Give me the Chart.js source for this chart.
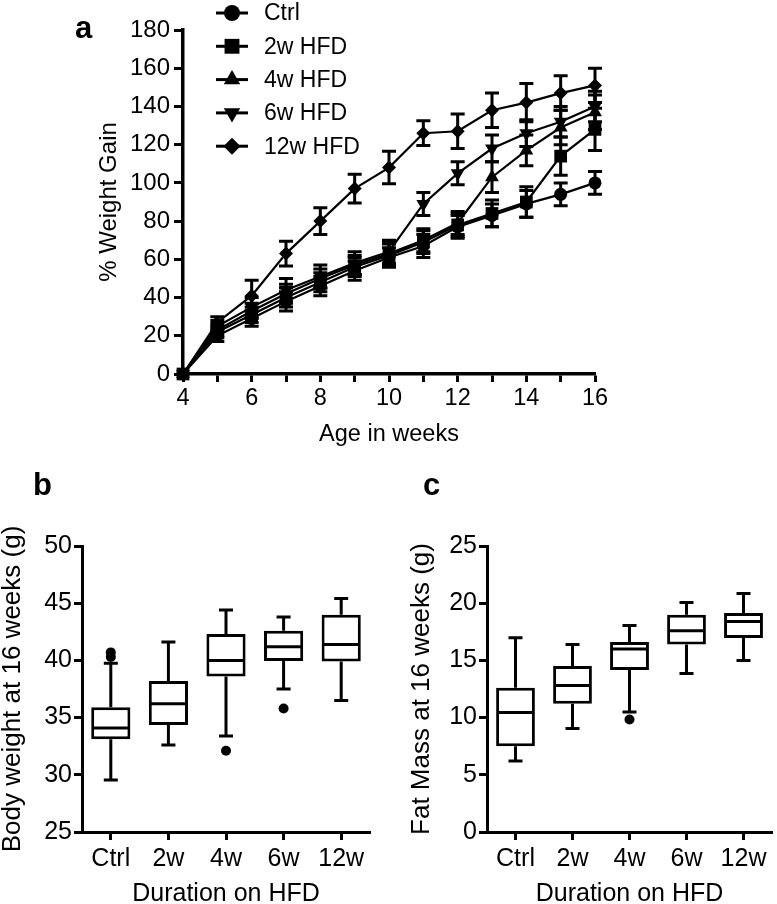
<!DOCTYPE html>
<html>
<head>
<meta charset="utf-8">
<script src="https://cdn.jsdelivr.net/npm/chart.js@4.4.1/dist/chart.umd.min.js"></script>
<style>
html,body{margin:0;padding:0;background:#fff;}
body{width:777px;height:904px;position:relative;overflow:hidden;}
.wrap{position:absolute;}
#wa{left:0;top:0;width:777px;height:470px;}
#wb{left:0;top:470px;width:390px;height:440px;}
#wc{left:390px;top:470px;width:387px;height:440px;}
.lab{position:absolute;font:bold 31px "Liberation Sans",Arial,sans-serif;line-height:31px;color:#000;}
</style>
</head>
<body>
<div id="wa" class="wrap"><canvas id="ca" width="777" height="470"></canvas></div>
<div id="wb" class="wrap"><canvas id="cb" width="390" height="440"></canvas></div>
<div id="wc" class="wrap"><canvas id="cc" width="387" height="440"></canvas></div>
<div class="lab" style="left:75px;top:12px;">a</div>
<div class="lab" style="left:33px;top:469px;">b</div>
<div class="lab" style="left:423px;top:469px;">c</div>
<script>
// ---------- Panel a data ----------
const weeks = [4,5,6,7,8,9,10,11,12,13,14,15,16];
const ctrlGain  = [0,20,29,38,46,54,61,67,77,83,89,94,100];
const hfd2Gain  = [0,22,31,40,48,56,62,69,78,84,90,114,128];
const hfd4Gain  = [0,23,33,42,50,57,63,70,79,103,117,129,137];
const hfd6Gain  = [0,25,35,44,51,58,64,89,105,118,126,132,140];
const hfd12Gain = [0,27,41,63,80,97,108,126,127,138,142,147,151];
const ctrlErr  = [0,3,4,5,5,5,5,6,6,6,7,6,6];
const hfd2Err  = [0,3,4,5,5,5,6,6,6,7,8,10,11];
const hfd4Err  = [0,3,4,5,5,5,6,6,6,8,8,9,9];
const hfd6Err  = [0,3,5,6,6,6,6,6,6,7,7,8,8];
const hfd12Err = [0,3,8,6.5,7,7.5,8.5,6.5,9,9,10,9,9];
const gainLabels = ['Ctrl','2w HFD','4w HFD','6w HFD','12w HFD'];
const xTicksA = [4,6,8,10,12,14,16];

// ---------- Panel b / c data ----------
const groups = ['Ctrl','2w','4w','6w','12w'];
const bwMin = [29.55,32.6,33.4,37.5,36.5];
const bwQ1  = [33.1,34.35,38.6,39.95,39.9];
const bwMed = [34.1,36.2,40.0,41.2,41.4];
const bwQ3  = [35.9,38.2,42.3,42.6,44.0];
const bwMax = [39.75,41.6,44.4,43.8,45.4];
const bwOutGroup = ['Ctrl','Ctrl','4w','6w'];
const bwOutVal   = [40.7,40.3,32.1,35.8];

const fmMin = [6.2,9.05,10.5,13.85,15.0];
const fmQ1  = [7.5,11.2,14.15,16.4,16.95];
const fmMed = [10.45,12.8,16.0,17.6,18.4];
const fmQ3  = [12.6,14.5,16.6,19.0,19.15];
const fmMax = [16.97,16.4,18.05,20.07,20.85];
const fmOutGroup = ['4w'];
const fmOutVal   = [9.83];

const FONT = '"Liberation Sans", Arial, sans-serif';
Chart.defaults.font.family = FONT;
Chart.defaults.color = '#000';

// ---------- Panel a ----------
const styles = [
  {ps:'circle', r:6.5, rot:0, lr:8},
  {ps:'rect', r:9, rot:0, lr:10.5},
  {ps:'triangle', r:8, rot:0, lr:9.5},
  {ps:'triangle', r:8, rot:180, lr:9.5},
  {ps:'rectRot', r:7, rot:0, lr:8.5}
];
const gainSeries = [ctrlGain,hfd2Gain,hfd4Gain,hfd6Gain,hfd12Gain];
const errSeries = [ctrlErr,hfd2Err,hfd4Err,hfd6Err,hfd12Err];

const datasetsA = gainSeries.map((vals,k)=>({
  label: gainLabels[k],
  data: weeks.map((w,i)=>({x:w,y:vals[i]})),
  err: errSeries[k],
  borderColor:'#000', borderWidth:2.2, tension:0,
  pointStyle: styles[k].ps, pointRadius: styles[k].r, pointRotation: styles[k].rot,
  pointBackgroundColor:'#000', pointBorderColor:'#000', pointBorderWidth:0,
  clip:false
}));

const errorBars = {
  id:'errorBars',
  afterDatasetsDraw(chart){
    const {ctx} = chart; const x = chart.scales.x, y = chart.scales.y;
    ctx.save(); ctx.strokeStyle='#000'; ctx.lineWidth=3; ctx.lineCap='butt';
    chart.data.datasets.forEach(ds=>{
      ds.err.forEach((e,j)=>{
        if(!e) return;
        const px = x.getPixelForValue(ds.data[j].x);
        const v = ds.data[j].y;
        const yt = y.getPixelForValue(v+e), yb = y.getPixelForValue(v-e);
        const cw = 7;
        ctx.beginPath();
        ctx.moveTo(px,yt); ctx.lineTo(px,yb);
        ctx.moveTo(px-cw,yt); ctx.lineTo(px+cw,yt);
        ctx.moveTo(px-cw,yb); ctx.lineTo(px+cw,yb);
        ctx.stroke();
      });
    });
    ctx.restore();
  }
};

const customLegend = {
  id:'customLegend',
  afterDraw(chart){
    const {ctx} = chart;
    ctx.save();
    chart.data.datasets.forEach((ds,k)=>{
      const yy = 13 + k*33.3;
      ctx.strokeStyle='#000'; ctx.lineWidth=3;
      ctx.beginPath(); ctx.moveTo(216,yy); ctx.lineTo(248,yy); ctx.stroke();
      ctx.fillStyle='#000';
      Chart.helpers.drawPoint(ctx,{pointStyle:styles[k].ps, rotation:styles[k].rot, radius:styles[k].lr, borderWidth:0},232,yy);
      ctx.font = '23px ' + FONT;
      ctx.textAlign='left'; ctx.textBaseline='middle';
      ctx.fillText(ds.label,264,yy+1);
    });
    ctx.restore();
  }
};

new Chart(document.getElementById('ca'),{
  type:'line',
  data:{datasets:datasetsA},
  plugins:[errorBars,customLegend],
  options:{
    responsive:false, animation:false, events:[],
    layout:{padding:{left:0,top:30,right:182,bottom:0}},
    plugins:{legend:{display:false},tooltip:{enabled:false}},
    scales:{
      x:{type:'linear', min:4, max:16,
        ticks:{stepSize:1, autoSkip:false, maxRotation:0, padding:2, color:'#000', font:{size:23.5},
          callback:(v)=> xTicksA.includes(v) ? String(v) : ''},
        grid:{drawOnChartArea:false, drawTicks:true, tickLength:8, tickWidth:3, tickColor:'#000'},
        border:{display:true, color:'#000', width:3.5},
        title:{display:true, text:'Age in weeks', color:'#000', font:{size:23.5, lineHeight:1}, padding:{top:0,bottom:24}},
        afterFit:(s)=>{s.height=96;}
      },
      y:{min:0, max:180,
        ticks:{stepSize:20, padding:4, color:'#000', font:{size:24}},
        grid:{drawOnChartArea:false, drawTicks:true, tickLength:9, tickWidth:3, tickColor:'#000'},
        border:{display:true, color:'#000', width:3.5},
        title:{display:true, text:'% Weight Gain', color:'#000', font:{size:24, lineHeight:1}, padding:{top:97,bottom:0}},
        afterFit:(s)=>{s.width=183;}
      }
    }
  }
});

// ---------- Box plots ----------
const boxWhiskers = {
  id:'boxWhiskers',
  afterDatasetsDraw(chart){
    const {ctx} = chart; const y = chart.scales.y;
    const ds = chart.data.datasets[0];
    const meta = chart.getDatasetMeta(0);
    ctx.save(); ctx.strokeStyle='#000'; ctx.lineWidth=3;
    meta.data.forEach((bar,i)=>{
      const cx = bar.x, half = bar.width/2, cw = 7;
      const pMin = y.getPixelForValue(ds.whiskerMin[i]);
      const pMax = y.getPixelForValue(ds.whiskerMax[i]);
      const pQ1 = y.getPixelForValue(ds.data[i][0]);
      const pQ3 = y.getPixelForValue(ds.data[i][1]);
      const pMed = y.getPixelForValue(ds.medians[i]);
      ctx.beginPath();
      ctx.moveTo(cx,pQ3); ctx.lineTo(cx,pMax);
      ctx.moveTo(cx-cw,pMax); ctx.lineTo(cx+cw,pMax);
      ctx.moveTo(cx,pQ1); ctx.lineTo(cx,pMin);
      ctx.moveTo(cx-cw,pMin); ctx.lineTo(cx+cw,pMin);
      ctx.moveTo(cx-half+1.5,pMed); ctx.lineTo(cx+half-1.5,pMed);
      ctx.stroke();
    });
    ctx.restore();
  }
};

function boxChart(id, yMin, yMax, yTitle, yTitlePad, yWidth, rightPad, mins, q1s, meds, q3s, maxs, outG, outV){
  new Chart(document.getElementById(id),{
    type:'bar',
    data:{
      labels: groups,
      datasets:[
        {type:'bar', data: groups.map((g,i)=>[q1s[i],q3s[i]]),
         whiskerMin: mins, whiskerMax: maxs, medians: meds,
         backgroundColor:'#fff', borderColor:'#000', borderWidth:3, borderSkipped:false,
         barPercentage:0.68, categoryPercentage:1, order:2},
        {type:'line', data: outG.map((g,i)=>({x:g, y:outV[i]})), showLine:false,
         pointStyle:'circle', pointRadius:5, pointBackgroundColor:'#000', pointBorderColor:'#000', pointBorderWidth:0, order:1, clip:false}
      ]
    },
    plugins:[boxWhiskers],
    options:{
      responsive:false, animation:false, events:[],
      layout:{padding:{left:0,top:76,right:rightPad,bottom:0}},
      plugins:{legend:{display:false},tooltip:{enabled:false}},
      scales:{
        x:{type:'category',
          ticks:{padding:4, color:'#000', font:{size:25}, maxRotation:0, autoSkip:false},
          grid:{offset:false, drawOnChartArea:false, drawTicks:true, tickLength:8, tickWidth:3, tickColor:'#000'},
          border:{display:true, color:'#000', width:3},
          title:{display:true, text:'Duration on HFD', color:'#000', font:{size:25, lineHeight:1}, padding:{top:0,bottom:3.5}},
          afterFit:(s)=>{s.height=78;}
        },
        y:{min:yMin, max:yMax,
          ticks:{stepSize:5, padding:2, color:'#000', font:{size:25}},
          grid:{drawOnChartArea:false, drawTicks:true, tickLength:8, tickWidth:3, tickColor:'#000'},
          border:{display:true, color:'#000', width:3},
          title:{display:true, text:yTitle, color:'#000', font:{size:26, lineHeight:1}, padding:{top:yTitlePad,bottom:0}},
          afterFit:(s)=>{s.width=yWidth;}
        }
      }
    }
  });
}

boxChart('cb',25,50,'Body weight at 16 weeks (g)',0,82,20,bwMin,bwQ1,bwMed,bwQ3,bwMax,bwOutGroup,bwOutVal);
boxChart('cc',0,25,'Fat Mass at 16 weeks (g)',18.7,97,4,fmMin,fmQ1,fmMed,fmQ3,fmMax,fmOutGroup,fmOutVal);
</script>
</body>
</html>
